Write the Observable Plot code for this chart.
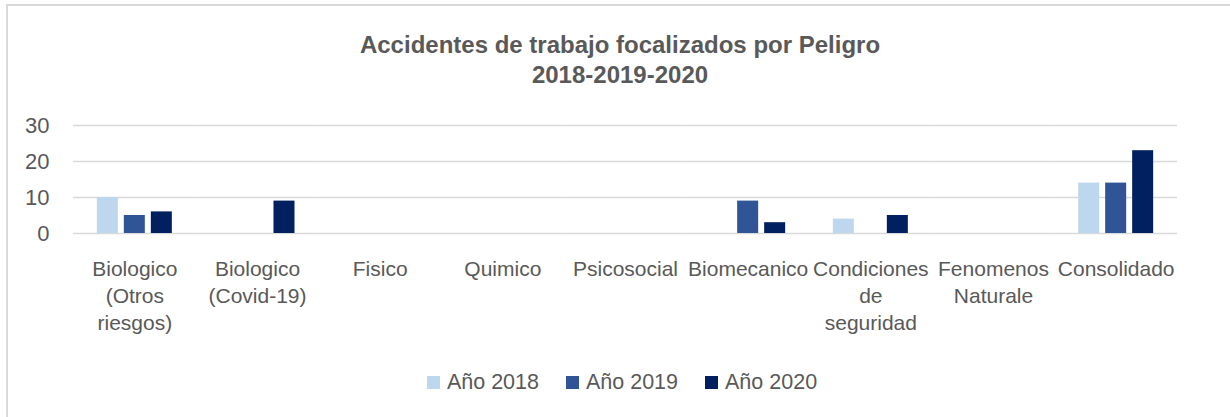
<!DOCTYPE html>
<html><head><meta charset="utf-8">
<script src="https://cdn.jsdelivr.net/npm/d3@7"></script>
<script src="https://cdn.jsdelivr.net/npm/@observablehq/plot@0.6"></script>
<style>
body{margin:0;background:#fff;}
#wrap{position:relative;width:1230px;height:417px;overflow:hidden;font-family:"Liberation Sans",Arial,sans-serif;color:#595959;}
#border{position:absolute;left:6px;top:4px;width:1240px;height:430px;border-left:2px solid #d9d9d9;border-top:2px solid #d9d9d9;}
#title{position:absolute;top:30px;left:0;width:1240px;text-align:center;font-weight:bold;font-size:24px;line-height:30px;}
#chart{position:absolute;left:0;top:100px;}
#legend{position:absolute;top:367px;left:0;width:1244px;display:flex;justify-content:center;gap:27px;font-size:21.5px;line-height:30px;}
.item{display:flex;align-items:center;}
.sw{width:13px;height:13px;margin-right:7px;display:inline-block;}
</style></head>
<body>
<div id="wrap">
<div id="border"></div>
<div id="title">Accidentes de trabajo focalizados por Peligro<br>2018-2019-2020</div>
<div id="chart"></div>
<div id="legend"></div>
</div>
<script>
const categories = ["Biologico (Otros riesgos)","Biologico (Covid-19)","Fisico","Quimico","Psicosocial","Biomecanico","Condiciones de seguridad","Fenomenos Naturale","Consolidado"];
const tickLabels = ["Biologico\n(Otros\nriesgos)","Biologico\n(Covid-19)","Fisico","Quimico","Psicosocial","Biomecanico","Condiciones\nde\nseguridad","Fenomenos\nNaturale","Consolidado"];
const years = ["Año 2018","Año 2019","Año 2020"];
const colors = ["#BDD7EE","#2F5597","#002060"];
const v2018 = [10,0,0,0,0,0,4,0,14];
const v2019 = [5,0,0,0,0,9,0,0,14];
const v2020 = [6,9,0,0,0,3,5,0,23];
const yTicks = [0,10,20,30];

const series = [v2018, v2019, v2020];
const data = [];
categories.forEach((c, i) => years.forEach((y, j) => {
  data.push({cat: c, year: y, value: series[j][i]});
}));
const labelMap = new Map(categories.map((c, i) => [c, tickLabels[i]]));
const font = '"Liberation Sans",Arial,sans-serif';

const chart = Plot.plot({
  width: 1230, height: 245,
  marginLeft: 73, marginRight: 53, marginTop: 25, marginBottom: 112,
  style: {fontFamily: font, fontSize: "21px", color: "#595959", background: "transparent"},
  fx: {domain: categories, padding: 0, round: false, label: null},
  x: {domain: years, paddingInner: 0.222, paddingOuter: 0.883, round: false, axis: null},
  y: {domain: [0, 30], label: null},
  color: {domain: years, range: colors},
  marks: [
    Plot.gridY(yTicks, {stroke: "#d9d9d9", strokeOpacity: 1, strokeWidth: 1.5}),
    Plot.barY(data, {fx: "cat", x: "year", y: "value", fill: "year", filter: d => d.value > 0}),
    Plot.axisY(yTicks, {tickSize: 0, tickPadding: 24, fontSize: 22, label: null, fill: "#595959"}),
    Plot.axisFx({anchor: "bottom", tickSize: 0, tickPadding: 23, tickFormat: d => labelMap.get(d), lineHeight: 1.29, fontSize: 21, label: null, fill: "#595959"})
  ]
});
document.getElementById("chart").appendChild(chart);

const legend = document.getElementById("legend");
years.forEach((y, i) => {
  const it = document.createElement("div");
  it.className = "item";
  const sw = document.createElement("span");
  sw.className = "sw"; sw.style.background = colors[i];
  it.appendChild(sw);
  it.appendChild(document.createTextNode(y));
  legend.appendChild(it);
});
</script>
</body></html>
